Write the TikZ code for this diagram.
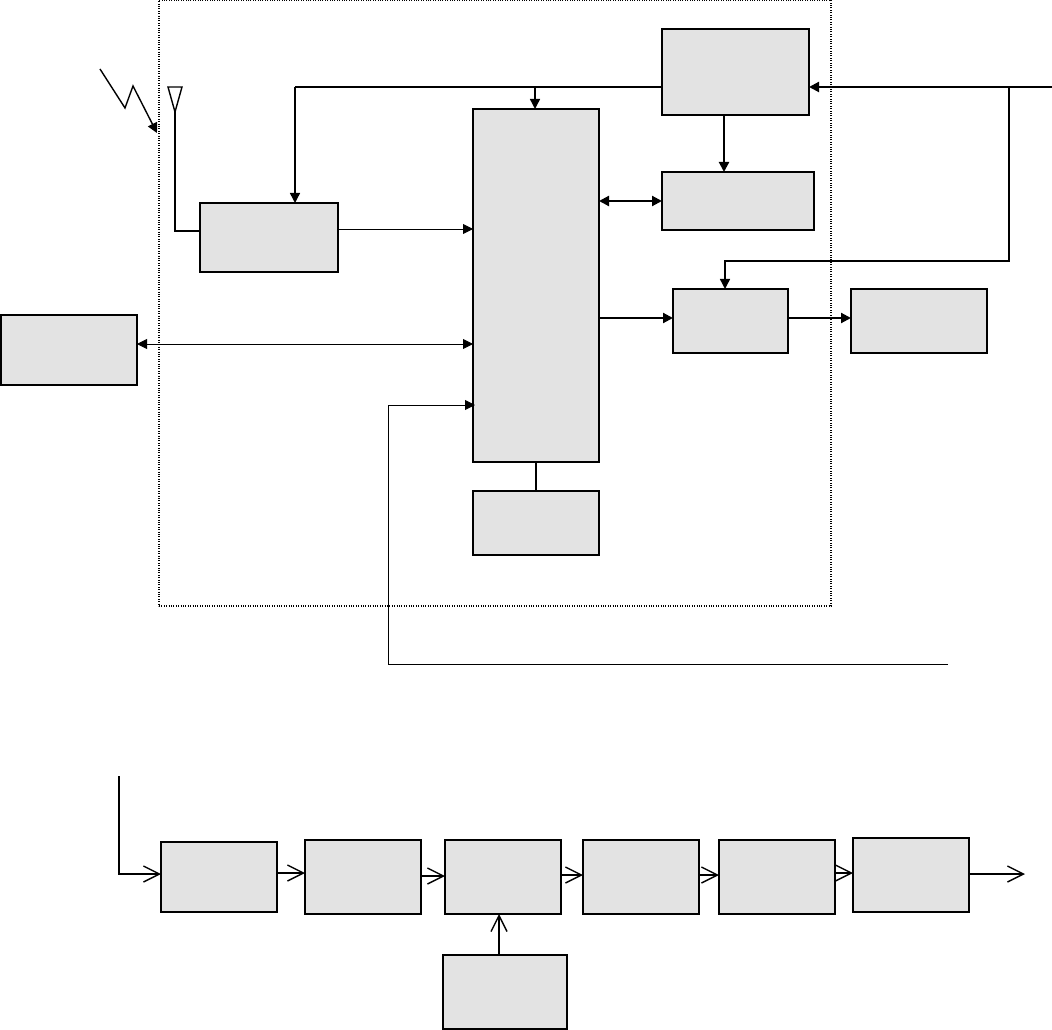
\documentclass[tikz,border=0pt]{standalone}
\usetikzlibrary{arrows.meta}
\definecolor{boxgray}{HTML}{E3E3E3}
\newcommand{\pxbox}[5]{%
  \pgfmathsetmacro{\bw}{(#4-#2)*0.75}%
  \pgfmathsetmacro{\bh}{(#5-#3)*0.75}%
  \pgfmathsetmacro{\bcx}{(#2+#4)/2}%
  \pgfmathsetmacro{\bcy}{(#3+#5)/2}%
  \node[blockbox, minimum width=\bw pt, minimum height=\bh pt] (#1) at (\bcx,\bcy) {};}
\tikzset{
  blockbox/.style={draw=black, fill=boxgray, line width=1.25pt, inner sep=0pt, outer sep=0pt},
  hairline/.style={draw=black, line width=0.7pt},
  thinline/.style={draw=black, line width=1.05pt},
  thickline/.style={draw=black, line width=1.6pt},
  solidtip/.style={-{Triangle[length=7.5pt,width=7.5pt]}},
  bothtip/.style={{Triangle[length=7.5pt,width=7.5pt]}-{Triangle[length=7.5pt,width=7.5pt]}},
  opentip/.style={-{Straight Barb[length=12pt,width=12pt,line width=1.05pt]}},
}
\begin{document}
\begin{tikzpicture}[x=0.75pt,y=-0.75pt]
\useasboundingbox (0,0) rectangle (1052,1030);
% dotted frame
\node[draw=black, densely dotted, line width=0.8pt, inner sep=0pt, outer sep=0pt,
      minimum width=504pt, minimum height=454.5pt] (frame) at (495,303) {};
% blocks
\pxbox{A}{662}{29}{809}{115}
\pxbox{B}{662}{172}{814}{230}
\pxbox{C}{200}{203}{338}{272}
\pxbox{D}{473}{109}{599}{462}
\pxbox{E}{673}{289}{788}{353}
\pxbox{F}{851}{289}{987}{353}
\pxbox{G}{1}{315}{137}{385}
\pxbox{H}{473}{491}{599}{555}
\pxbox{R1}{161}{842}{277}{912}
\pxbox{R2}{305}{840}{421}{914}
\pxbox{R3}{445}{840}{561}{914}
\pxbox{R4}{583}{840}{699}{914}
\pxbox{R5}{719}{840}{835}{914}
\pxbox{R6}{853}{838}{969}{912}
\pxbox{R7}{443}{955}{567}{1029}
% connector end points
\coordinate (Aw) at (662,87);
\coordinate (Ae) at (809,87);
\coordinate (Ab) at (724,115);
\coordinate (Bt) at (724,172);
\coordinate (Bw) at (662,201);
\coordinate (Ct) at (295,203);
\coordinate (corner) at (295,87);
\coordinate (Cw) at (200,231);
\coordinate (Ce) at (338,229);
\coordinate (Dt) at (535,109);
\coordinate (Dbus) at (535,87);
\coordinate (Dc) at (473,229);
\coordinate (De1) at (599,201);
\coordinate (De2) at (599,318);
\coordinate (Dg) at (473,344);
\coordinate (Dl) at (475,405);
\coordinate (Db) at (536,462);
\coordinate (Ht) at (536,491);
\coordinate (Et) at (725,289);
\coordinate (Ew) at (673,318);
\coordinate (Ee) at (788,318);
\coordinate (Fw) at (851,318);
\coordinate (Ge) at (137,344);
\coordinate (inR) at (1052,87);
\coordinate (tap) at (1009,87);
\coordinate (lineEnd) at (948,664);
\coordinate (rowIn) at (119,776);
\coordinate (R1w) at (161,874);
\coordinate (R2w) at (305,873);
\coordinate (R1e) at (277,873);
\coordinate (R2e) at (421,876);
\coordinate (R3w) at (445,876);
\coordinate (R3e) at (561,875);
\coordinate (R4w) at (583,875);
\coordinate (R4e) at (699,875);
\coordinate (R5w) at (719,875);
\coordinate (R5e) at (835,873);
\coordinate (R6w) at (853,873);
\coordinate (R6e) at (969,874);
\coordinate (rowOut) at (1025,874);
\coordinate (R3b) at (499,914);
\coordinate (R7t) at (499,955);
\coordinate (antBase) at (175,112);
\coordinate (antL) at (168,87);
\coordinate (antR) at (182,87);
\coordinate (z1) at (100,69);
\coordinate (z2) at (125,108);
\coordinate (z3) at (133,86);
\coordinate (z4) at (157,133);
% antenna and incoming signal
\draw[thinline, line join=miter] (antL) -- (antR) -- (antBase) -- cycle;
\draw[thinline] (antBase) |- (Cw);
\draw[thinline, solidtip] (z1) -- (z2) -- (z3) -- (z4);
% upper connectors
\draw[thickline] (Aw) -- (corner);
\draw[thinline, solidtip] (corner) -- (Ct);
\draw[thinline, solidtip] (Dbus) -- (Dt);
\draw[thickline, solidtip] (inR) -- (Ae);
\draw[thinline, solidtip] (tap) |- (725,261) -- (Et);
\draw[thickline, solidtip] (Ab) -- (Bt);
\draw[thickline, bothtip] (De1) -- (Bw);
\draw[hairline, solidtip] (Ce) -- (Dc);
\draw[thickline, solidtip] (De2) -- (Ew);
\draw[thickline, solidtip] (Ee) -- (Fw);
\draw[hairline, bothtip] (Ge) -- (Dg);
\draw[thickline] (Db) -- (Ht);
\draw[hairline, solidtip] (lineEnd) -| (388,405) -- (Dl);
% lower chain
\draw[thinline, opentip] (rowIn) |- (R1w);
\draw[thinline, opentip] (R1e) -- (R2w);
\draw[thinline, opentip] (R2e) -- (R3w);
\draw[thinline, opentip] (R3e) -- (R4w);
\draw[thinline, opentip] (R4e) -- (R5w);
\draw[thinline, opentip] (R5e) -- (R6w);
\draw[thinline, opentip] (R6e) -- (rowOut);
\draw[thinline, opentip] (R7t) -- (R3b);
\end{tikzpicture}
\end{document}
